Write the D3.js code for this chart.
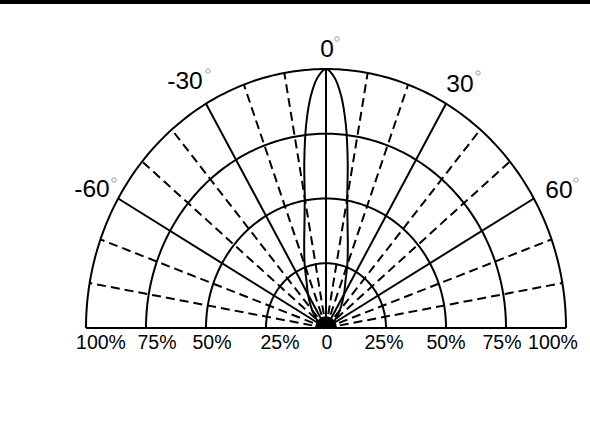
<!DOCTYPE html>
<html>
<head>
<meta charset="utf-8">
<script src="https://d3js.org/d3.v7.min.js"></script>
<style>
  body { margin: 0; background: #fff; }
  svg { display: block; font-family: "Liberation Sans", Arial, sans-serif; }
</style>
</head>
<body>
<svg id="chart" width="590" height="436"></svg>
<script>
// beam pattern: angle (deg) -> relative intensity (%)
var angles = [0, 2, 4, 6, 8, 10, 13, 16, 20, 24, 30, 40, 50, 60, 70, 80, 90];
var intensity = [100, 97, 90, 79, 65, 51, 40, 33, 26, 20, 15, 9, 5, 3, 1.5, 0.5, 0];
var rings = [25, 50, 75, 100];
var spokes = [-80, -70, -60, -50, -40, -30, -20, -10, 0, 10, 20, 30, 40, 50, 60, 70, 80];
var angleLabels = [-60, -30, 0, 30, 60];
var radTicks = [-100, -75, -50, -25, 0, 25, 50, 75, 100];
var radTickText = ["100%", "75%", "50%", "25%", "0", "25%", "50%", "75%", "100%"];

var svg = d3.select('#chart');
var cx = 326, cy = 328;

var rx = d3.scaleLinear().domain([0, 100]).range([0, 240]);
var ry = d3.scaleLinear().domain([0, 100]).range([0, 259]);
var xAxisScale = d3.scaleLinear().domain([-100, 100]).range([cx - 240, cx + 240]);

function pt(r, deg) {
  var a = deg * Math.PI / 180;
  return [cx + rx(r) * Math.sin(a), cy - ry(r) * Math.cos(a)];
}

// top black bar
svg.append('rect').attr('x', 0).attr('y', 0).attr('width', 590).attr('height', 4).attr('fill', '#000');

var g = svg.append('g').attr('fill', 'none').attr('stroke', '#000');
var line = d3.line();

// rings
var sweep = d3.range(-90, 90.5, 1);
g.selectAll('.ring')
  .data(rings)
  .enter().append('path')
  .attr('class', 'ring')
  .attr('stroke-width', 2)
  .attr('d', r => line(sweep.map(a => pt(r, a))));

// spokes
g.selectAll('.spoke')
  .data(spokes)
  .enter().append('path')
  .attr('class', 'spoke')
  .attr('stroke-width', 2)
  .attr('stroke-dasharray', d => d % 30 === 0 ? null : '9,5')
  .attr('d', d => line([pt(0, d), pt(100, d)]));

// baseline
g.append('path')
  .attr('stroke-width', 2)
  .attr('d', line([[xAxisScale(-100), cy], [xAxisScale(100), cy]]));

// beam pattern
var pattern = [];
for (var i = angles.length - 1; i > 0; i--) pattern.push(pt(intensity[i], -angles[i]));
for (var j = 0; j < angles.length; j++) pattern.push(pt(intensity[j], angles[j]));
g.append('path')
  .attr('stroke-width', 2)
  .attr('d', d3.line().curve(d3.curveCatmullRom)(pattern));

// center blob
svg.append('path')
  .attr('fill', '#000')
  .attr('d', line(d3.range(-90, 90.5, 5).map(a => pt(4.5, a))) + 'Z');

// bottom tick labels
var nudge = [15, 11, 6, 14, 1, -2, 0, -4, -13];
svg.selectAll('.rt')
  .data(radTicks)
  .enter().append('text')
  .attr('class', 'rt')
  .attr('x', (d, i) => xAxisScale(d) + nudge[i])
  .attr('y', 349)
  .attr('text-anchor', 'middle')
  .attr('font-size', 19.5)
  .attr('fill', '#000')
  .text((d, i) => radTickText[i]);

// angle labels
var labPos = {
  '-60': [92, 197, 114, 180],
  '-30': [185, 89, 208, 71],
  '0': [327, 57, 337, 39],
  '30': [460, 92, 478, 73],
  '60': [559, 198, 576, 180]
};
angleLabels.forEach(function(a) {
  var p = labPos[a];
  svg.append('text')
    .attr('x', p[0]).attr('y', p[1])
    .attr('text-anchor', 'middle')
    .attr('font-size', 24.5)
    .attr('fill', '#000')
    .text(a);
  svg.append('circle')
    .attr('cx', p[2]).attr('cy', p[3]).attr('r', 2.2)
    .attr('fill', 'none').attr('stroke', '#888').attr('stroke-width', 0.8);
});
</script>
</body>
</html>
